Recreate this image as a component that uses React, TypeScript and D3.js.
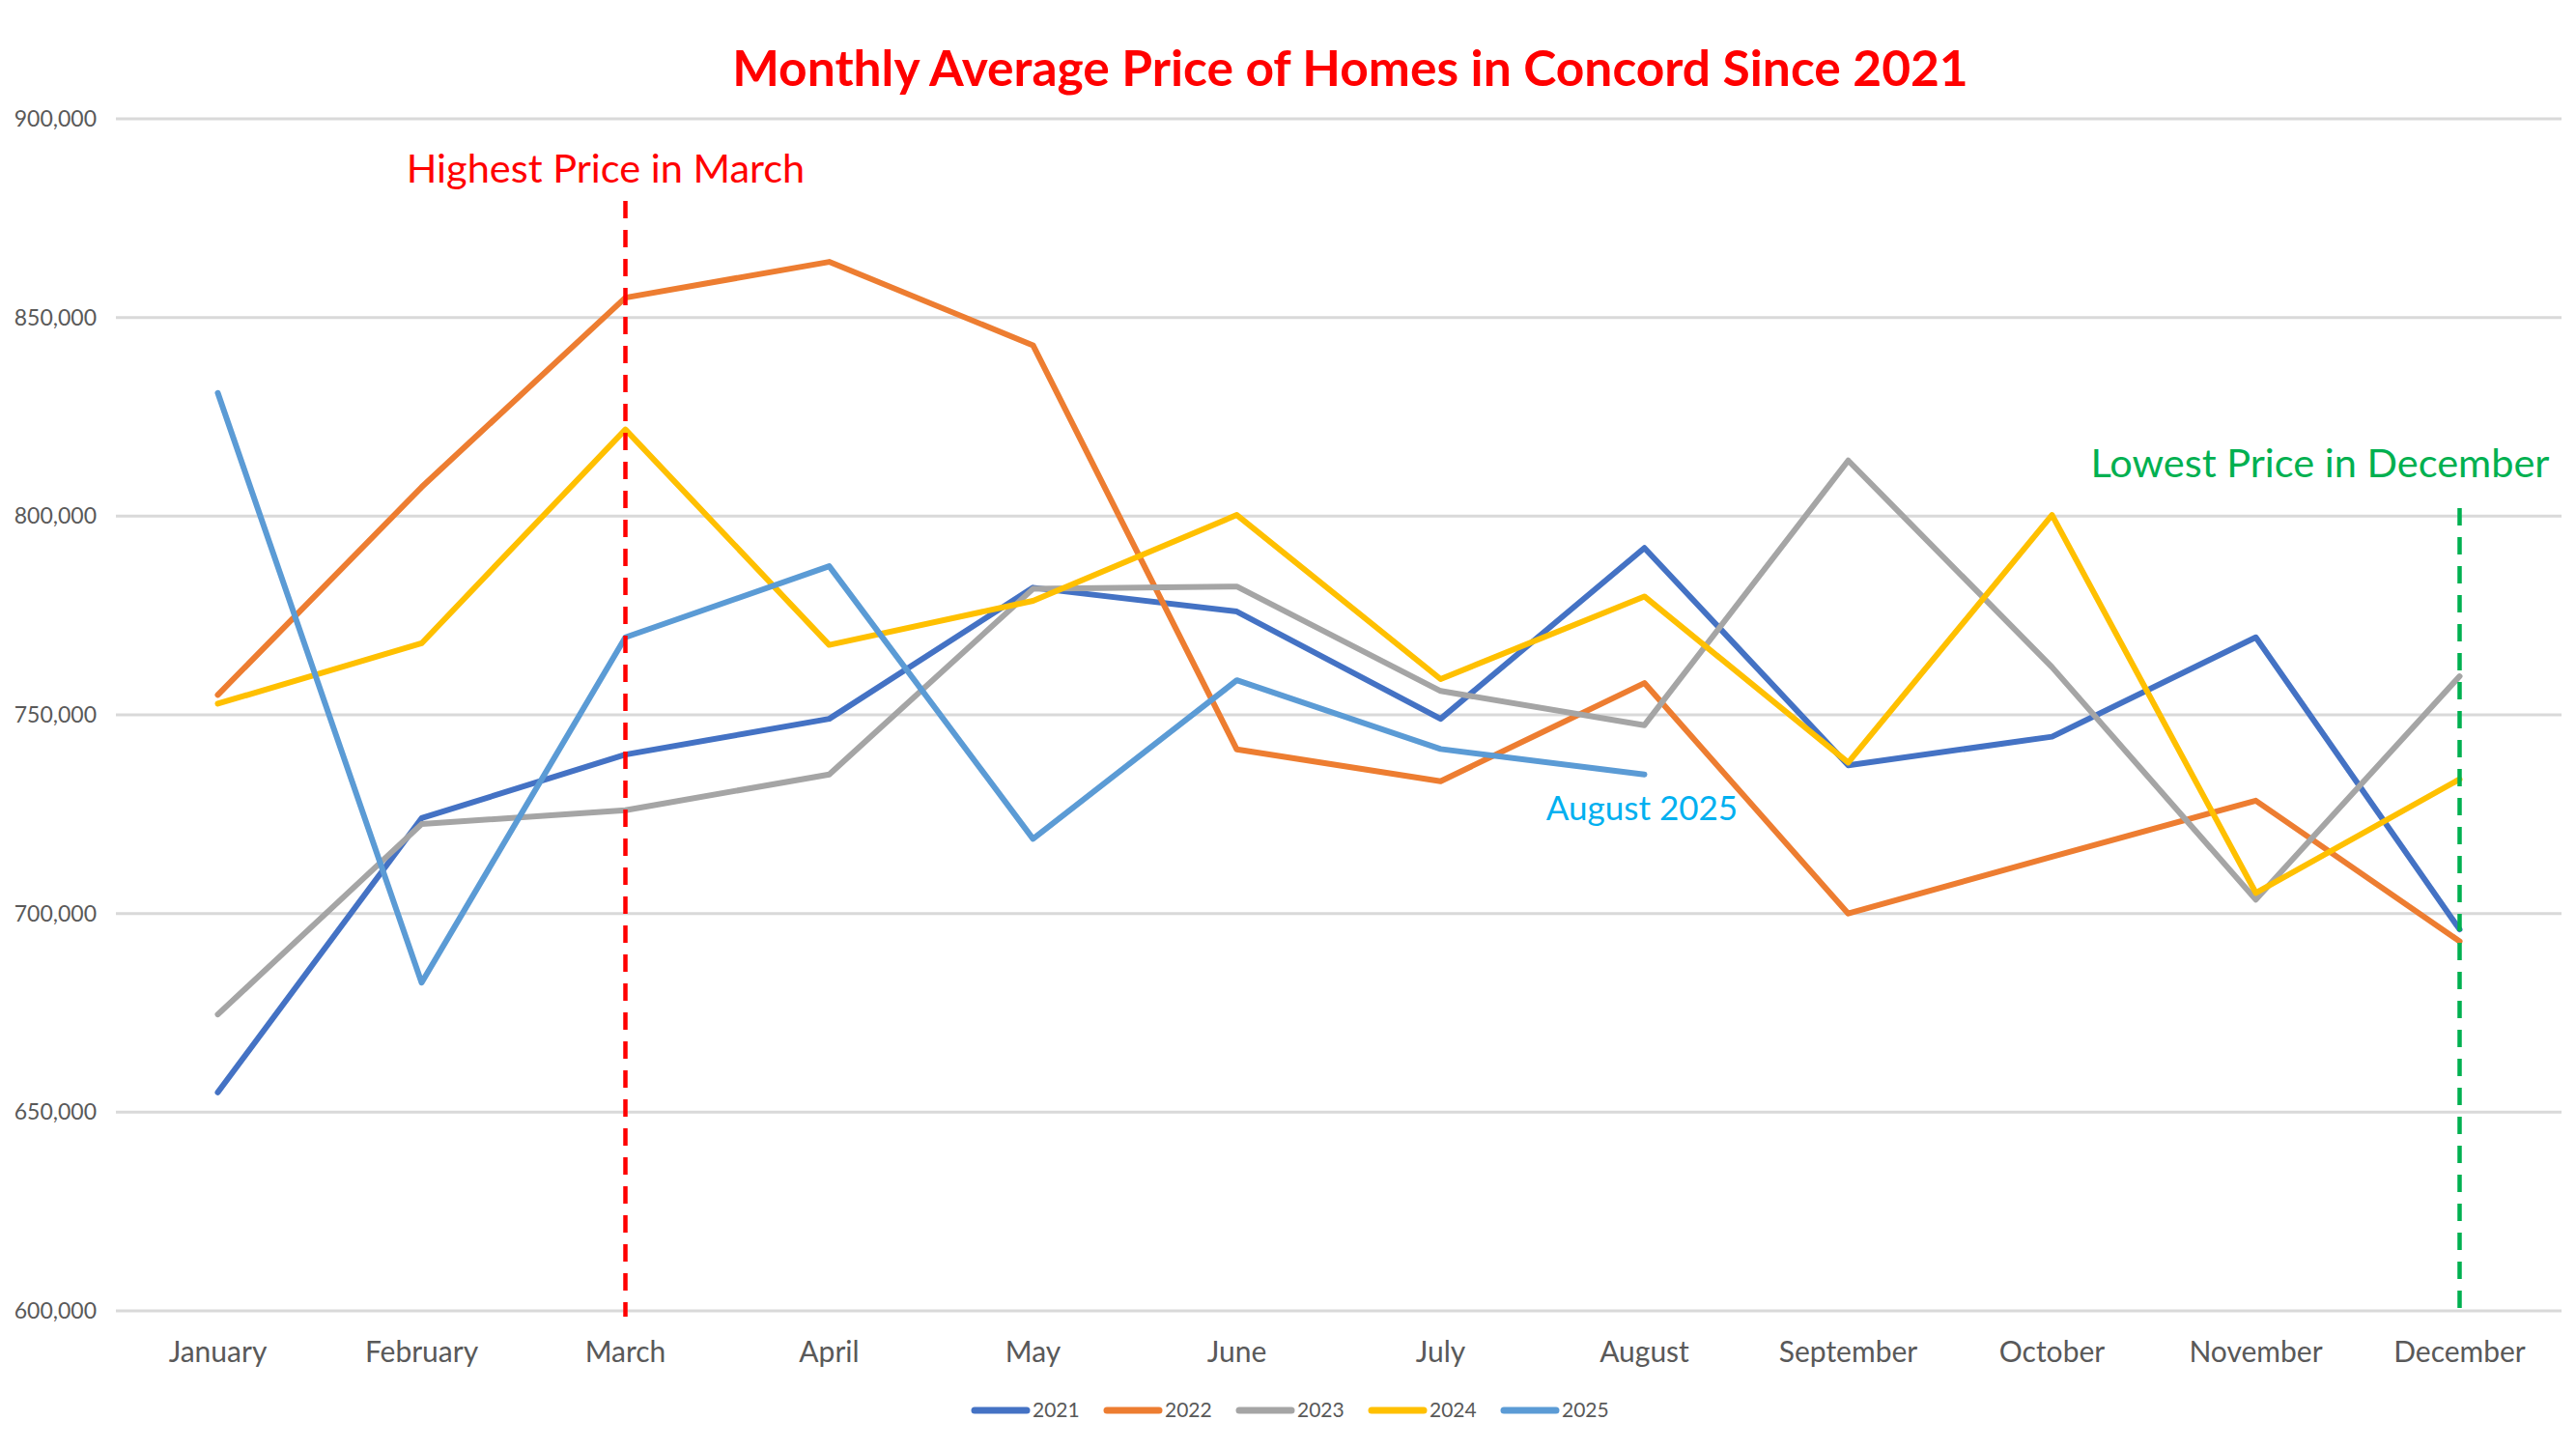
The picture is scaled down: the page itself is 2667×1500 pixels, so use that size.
import React, { useEffect } from "react";
import * as d3 from "d3";

const months = ["January","February","March","April","May","June","July","August","September","October","November","December"];
const years = ["2021","2022","2023","2024","2025"];
const colors = ["#4472C4","#ED7D31","#A5A5A5","#FFC000","#5B9BD5"];
const s2021 = [655000,724000,740000,749000,782000,776000,749000,792000,737300,744500,769500,696000];
const s2022 = [755000,807300,855000,864000,843000,741300,733300,758000,700000,714300,728400,693000];
const s2023 = [674600,722500,726000,735000,781700,782300,756000,747400,814000,762000,703500,759700];
const s2024 = [752800,768000,821800,767600,778700,800300,759000,779800,738000,800300,705200,733800];
const s2025 = [831000,682600,769500,787400,718800,758700,741400,735000];
const series = [s2021, s2022, s2023, s2024, s2025];
const yTicks = [600000,650000,700000,750000,800000,850000,900000];

const W = 2667, H = 1500;
const FONT = "Lato, 'Open Sans', 'DejaVu Sans', sans-serif";

export default function App() {
  useEffect(() => { document.body.style.margin = "0"; }, []);
  const x = d3.scalePoint<string>().domain(months).range([120, 2652]).padding(0.5);
  const y = d3.scaleLinear().domain([600000, 900000]).range([1357, 123]);
  const fmt = d3.format(",");
  const line = d3.line<number>().x((_, i) => x(months[i]) as number).y((d) => y(d));
  const xMar = x("March") as number;
  const xDec = x("December") as number;
  return (
    <svg width={W} height={H} style={{ position: "absolute", left: 0, top: 0, background: "#fff" }} fontFamily={FONT}>
      <rect x={0} y={0} width={W} height={H} fill="#fff" />
      <text x={1398} y={89} textAnchor="middle" fontSize={51.5} fontWeight="bold" fill="#FF0000">Monthly Average Price of Homes in Concord Since 2021</text>
      {yTicks.map((t) => (
        <g key={t}>
          <line x1={120} x2={2652} y1={y(t)} y2={y(t)} stroke="#D9D9D9" strokeWidth={3} />
          <text x={100} y={y(t)} dy="0.35em" textAnchor="end" fontSize={23} fill="#595959">{fmt(t)}</text>
        </g>
      ))}
      {months.map((m) => (
        <text key={m} x={x(m)} y={1410} textAnchor="middle" fontSize={30} fill="#595959">{m}</text>
      ))}
      {series.map((s, i) => (
        <path key={years[i]} d={line(s) || ""} fill="none" stroke={colors[i]} strokeWidth={6} strokeLinejoin="round" strokeLinecap="round" />
      ))}
      <line x1={xMar} x2={xMar} y1={208} y2={1363} stroke="#FF0000" strokeWidth={4.5} strokeDasharray="18 12" />
      <text x={627} y={189} textAnchor="middle" fontSize={41.5} fill="#FF0000">Highest Price in March</text>
      <line x1={xDec} x2={xDec} y1={526} y2={1363} stroke="#00B050" strokeWidth={4.5} strokeDasharray="18 12" />
      <text x={2402} y={494} textAnchor="middle" fontSize={41.5} fill="#00B050">Lowest Price in December</text>
      <text x={1700} y={849} textAnchor="middle" fontSize={35} fill="#00B0F0">August 2025</text>
      {years.map((yr, i) => (
        <g key={yr} transform={`translate(${1006 + i * 137},1460)`}>
          <line x1={3} x2={57} y1={0} y2={0} stroke={colors[i]} strokeWidth={7} strokeLinecap="round" />
          <text x={63} y={0} dy="0.35em" fontSize={21} fill="#595959">{yr}</text>
        </g>
      ))}
    </svg>
  );
}
